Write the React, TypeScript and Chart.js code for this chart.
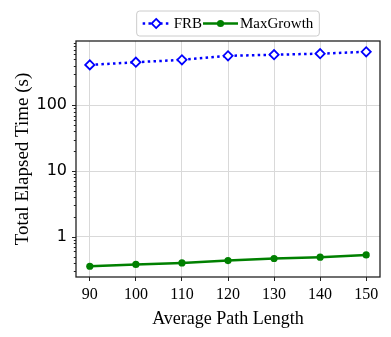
import React, { useEffect, useRef } from "react";
import { Chart, registerables } from "chart.js";

Chart.register(...registerables);

const pathLengths = [90, 100, 110, 120, 130, 140, 150];
const frbTimes = [412, 452, 492, 566, 588, 610, 652];
const maxGrowthTimes = [0.357, 0.38, 0.401, 0.436, 0.468, 0.49, 0.531];
const xTickValues = [90, 100, 110, 120, 130, 140, 150];
const yMajorTicks = [1, 10, 100];
const yMinorTicks = [0.3, 0.4, 0.5, 0.6, 0.7, 0.8, 0.9, 2, 3, 4, 5, 6, 7, 8, 9, 20, 30, 40, 50, 60, 70, 80, 90, 200, 300, 400, 500, 600, 700, 800, 900];
const seriesNames = ["FRB", "MaxGrowth"];

const SERIF = '"Liberation Serif", "Times New Roman", serif';
const SANS = '"DejaVu Sans", sans-serif';
const BLUE = "#0000ff";
const GREEN = "#008000";

const framePlugin = {
  id: "frame",
  afterDraw(chart: any) {
    const { ctx, chartArea } = chart;
    const y = chart.scales.y;
    ctx.save();
    ctx.strokeStyle = "#222222";
    ctx.lineWidth = 1;
    const all = [...yMajorTicks.map((v) => [v, 4]), ...yMinorTicks.map((v) => [v, 2.2])];
    for (const [v, len] of all) {
      const py = y.getPixelForValue(v);
      if (py < chartArea.top || py > chartArea.bottom) continue;
      ctx.beginPath();
      ctx.moveTo(chartArea.left, Math.round(py) + 0.5);
      ctx.lineTo(chartArea.left - len, Math.round(py) + 0.5);
      ctx.stroke();
    }
    ctx.lineWidth = 1.3;
    ctx.strokeRect(chartArea.left, chartArea.top, chartArea.right - chartArea.left, chartArea.bottom - chartArea.top);
    ctx.restore();
  },
};

const legendPlugin = {
  id: "customLegend",
  afterDraw(chart: any) {
    const { ctx, chartArea } = chart;
    ctx.save();
    ctx.font = `15px ${SERIF}`;
    const w1 = ctx.measureText(seriesNames[0]).width;
    const w2 = ctx.measureText(seriesNames[1]).width;
    const pad = 6, h1 = 27, g1 = 4, cs = 1, h2 = 35, g2 = 2;
    const total = pad + h1 + g1 + w1 + cs + h2 + g2 + w2 + pad;
    const cx = (chartArea.left + chartArea.right) / 2;
    const left = cx - total / 2;
    const top = 11, height = 25;
    const cy = top + height / 2;
    const r = 3;
    ctx.beginPath();
    ctx.moveTo(left + r, top);
    ctx.arcTo(left + total, top, left + total, top + height, r);
    ctx.arcTo(left + total, top + height, left, top + height, r);
    ctx.arcTo(left, top + height, left, top, r);
    ctx.arcTo(left, top, left + total, top, r);
    ctx.closePath();
    ctx.fillStyle = "rgba(255,255,255,0.9)";
    ctx.fill();
    ctx.strokeStyle = "#cccccc";
    ctx.lineWidth = 1;
    ctx.stroke();

    let x = left + pad;
    ctx.strokeStyle = BLUE;
    ctx.lineWidth = 2.5;
    ctx.setLineDash([2.5, 3.3]);
    ctx.beginPath();
    ctx.moveTo(x, cy);
    ctx.lineTo(x + h1, cy);
    ctx.stroke();
    ctx.setLineDash([]);
    const mx = x + h1 / 2;
    const d = 4.6;
    ctx.beginPath();
    ctx.moveTo(mx, cy - d);
    ctx.lineTo(mx + d, cy);
    ctx.lineTo(mx, cy + d);
    ctx.lineTo(mx - d, cy);
    ctx.closePath();
    ctx.fillStyle = "#ffffff";
    ctx.fill();
    ctx.lineWidth = 1.8;
    ctx.stroke();
    x += h1 + g1;
    ctx.fillStyle = "#000000";
    ctx.textBaseline = "middle";
    ctx.textAlign = "left";
    ctx.fillText(seriesNames[0], x, cy + 1);
    x += w1 + cs;
    ctx.strokeStyle = GREEN;
    ctx.lineWidth = 2.5;
    ctx.beginPath();
    ctx.moveTo(x, cy);
    ctx.lineTo(x + h2, cy);
    ctx.stroke();
    ctx.beginPath();
    ctx.arc(x + h2 / 2, cy, 3.6, 0, Math.PI * 2);
    ctx.fillStyle = GREEN;
    ctx.fill();
    x += h2 + g2;
    ctx.fillStyle = "#000000";
    ctx.fillText(seriesNames[1], x, cy + 1);
    ctx.restore();
  },
};

const bgPlugin = {
  id: "bg",
  beforeDraw(chart: any) {
    const { ctx, width, height } = chart;
    ctx.save();
    ctx.fillStyle = "#ffffff";
    ctx.fillRect(0, 0, width, height);
    ctx.restore();
  },
};

export default function App() {
  const canvasRef = useRef<HTMLCanvasElement | null>(null);

  useEffect(() => {
    document.body.style.margin = "0";
    const canvas = canvasRef.current;
    if (!canvas) return;
    const chart = new Chart(canvas, {
      type: "line",
      data: {
        datasets: [
          {
            label: seriesNames[0],
            data: pathLengths.map((x, i) => ({ x, y: frbTimes[i] })),
            borderColor: BLUE,
            backgroundColor: "#ffffff",
            borderWidth: 2.5,
            borderDash: [2.5, 3.3],
            pointStyle: "rectRot",
            pointRadius: 4.6,
            pointBorderWidth: 1.8,
            pointBorderColor: BLUE,
            pointBackgroundColor: "#ffffff",
            tension: 0,
          },
          {
            label: seriesNames[1],
            data: pathLengths.map((x, i) => ({ x, y: maxGrowthTimes[i] })),
            borderColor: GREEN,
            backgroundColor: GREEN,
            borderWidth: 2.5,
            pointStyle: "circle",
            pointRadius: 3.6,
            pointBorderWidth: 0,
            pointBackgroundColor: GREEN,
            tension: 0,
          },
        ],
      },
      options: {
        responsive: false,
        animation: false,
        devicePixelRatio: 1,
        layout: { padding: { top: 41, right: 11, left: 0, bottom: 0 } },
        plugins: {
          legend: { display: false },
          tooltip: { enabled: false },
        },
        scales: {
          x: {
            type: "linear",
            min: 87,
            max: 153,
            afterBuildTicks: (scale: any) => {
              scale.ticks = xTickValues.map((v) => ({ value: v }));
            },
            afterFit: (scale: any) => {
              scale.height = 60;
            },
            border: { display: false },
            grid: {
              color: "#d9d9d9",
              lineWidth: 1,
              drawTicks: true,
              tickLength: 4,
              tickColor: "#222222",
              tickWidth: 1,
            },
            ticks: {
              color: "#000000",
              font: { family: SERIF, size: 16 },
              padding: 4,
              maxRotation: 0,
              callback: (v: any) => String(v),
            },
            title: {
              display: true,
              text: "Average Path Length",
              color: "#000000",
              font: { family: SERIF, size: 18 },
              padding: { top: 0, bottom: 7 },
            },
          },
          y: {
            type: "logarithmic",
            min: 0.245,
            max: 951,
            afterBuildTicks: (scale: any) => {
              scale.ticks = [...yMinorTicks, ...yMajorTicks]
                .sort((a, b) => a - b)
                .map((v) => ({ value: v, major: yMajorTicks.includes(v) }));
            },
            afterFit: (scale: any) => {
              scale.width = 76;
            },
            border: { display: false },
            grid: {
              drawTicks: false,
              color: (ctx: any) =>
                ctx.tick && yMajorTicks.includes(ctx.tick.value) ? "#d9d9d9" : "rgba(0,0,0,0)",
              lineWidth: 1,
            },
            ticks: {
              color: "#000000",
              font: { family: SANS, size: 16 },
              padding: 9,
              autoSkip: false,
              callback: (v: any) => (yMajorTicks.includes(Number(v)) ? String(v) : ""),
            },
            title: {
              display: true,
              text: "Total Elapsed Time (s)",
              color: "#000000",
              font: { family: SERIF, size: 19 },
              padding: { top: 12, bottom: 0 },
            },
          },
        },
      },
      plugins: [bgPlugin, framePlugin, legendPlugin],
    });
    return () => chart.destroy();
  }, []);

  return (
    <div style={{ position: "fixed", left: 0, top: 0, width: 391, height: 337 }}>
      <canvas ref={canvasRef} width={391} height={337} />
    </div>
  );
}
